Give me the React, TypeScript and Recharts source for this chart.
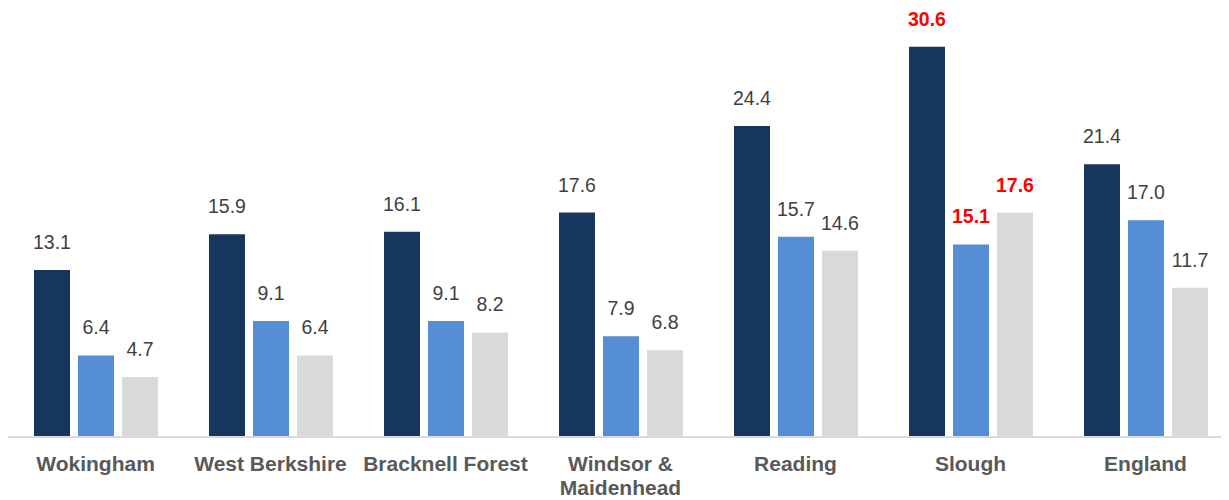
import React from "react";
import { BarChart, Bar, XAxis, YAxis, LabelList, Text } from "recharts";

const categories = [
  "Wokingham",
  "West Berkshire",
  "Bracknell Forest",
  "Windsor & Maidenhead",
  "Reading",
  "Slough",
  "England",
];
const series1 = [13.1, 15.9, 16.1, 17.6, 24.4, 30.6, 21.4];
const series2 = [6.4, 9.1, 9.1, 7.9, 15.7, 15.1, 17.0];
const series3 = [4.7, 6.4, 8.2, 6.8, 14.6, 17.6, 11.7];
const highlightCategory = "Slough";

const data = categories.map((name, i) => ({
  name,
  s1: series1[i],
  s2: series2[i],
  s3: series3[i],
}));

const FONT = "'Liberation Sans', Arial, sans-serif";

const makeLabel = (props: any) => {
  const { x, y, width, value, index } = props;
  const hl = categories[index] === highlightCategory;
  return (
    <text
      x={Number(x) + Number(width) / 2}
      y={Number(y) - 21}
      textAnchor="middle"
      fontFamily={FONT}
      fontSize={19.5}
      fontWeight={hl ? 700 : 400}
      fill={hl ? "#FF0000" : "#404040"}
    >
      {Number(value).toFixed(1)}
    </text>
  );
};

const CategoryTick = (props: any) => {
  const { x, y, payload } = props;
  return (
    <Text
      x={x}
      y={Number(y) + 19}
      width={172}
      textAnchor="middle"
      verticalAnchor="start"
      lineHeight={24}
      style={{ fontFamily: FONT, fontSize: 21, fontWeight: 700 }}
      fill="#595959"
    >
      {payload.value}
    </Text>
  );
};

export default function App() {
  return (
    <div style={{ width: 1221, height: 492, overflow: "hidden" }}>
      <BarChart
        width={1225}
        height={492}
        data={data}
        margin={{ top: 21, right: 0, left: 0, bottom: 3 }}
        barSize={36}
        barGap={8}
      >
        <XAxis
          dataKey="name"
          height={60}
          interval={0}
          tickLine={false}
          tickSize={0}
          tickMargin={0}
          axisLine={{ stroke: "#D9D9D9", strokeWidth: 2 }}
          tick={<CategoryTick />}
        />
        <YAxis hide domain={[0, 32]} />
        <Bar dataKey="s1" fill="#17365D" isAnimationActive={false}>
          <LabelList dataKey="s1" content={makeLabel} />
        </Bar>
        <Bar dataKey="s2" fill="#558ED5" isAnimationActive={false}>
          <LabelList dataKey="s2" content={makeLabel} />
        </Bar>
        <Bar dataKey="s3" fill="#D9D9D9" isAnimationActive={false}>
          <LabelList dataKey="s3" content={makeLabel} />
        </Bar>
      </BarChart>
    </div>
  );
}
